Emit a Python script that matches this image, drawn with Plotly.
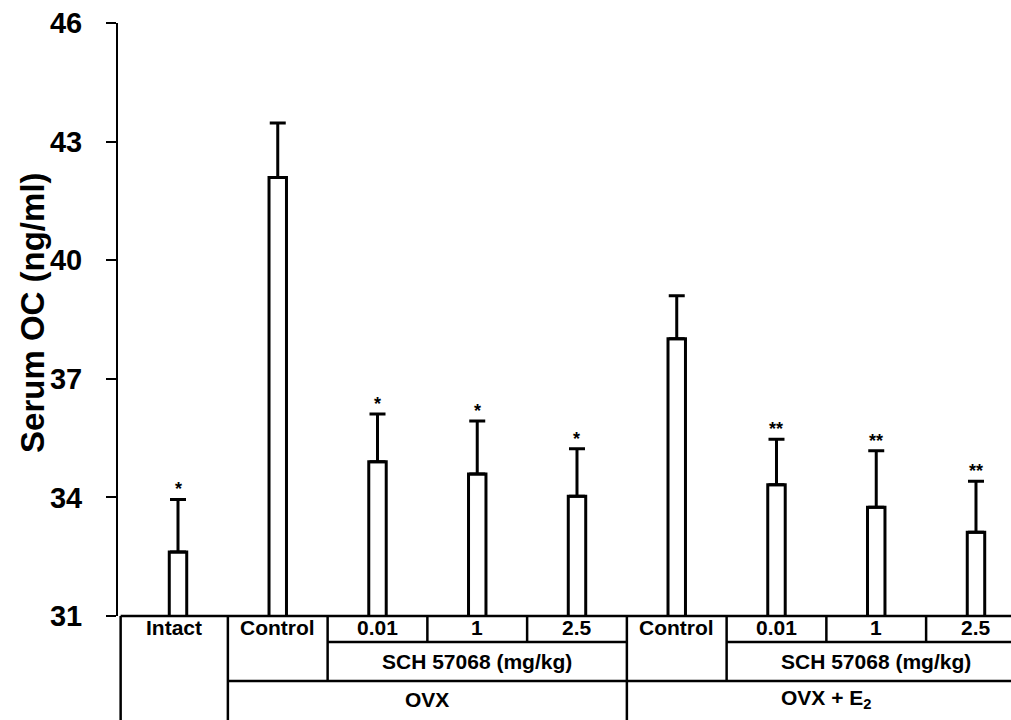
import plotly.graph_objects as go

# ---- data ----
categories = ["Intact", "Control", "0.01", "1", "2.5", "Control", "0.01", "1", "2.5"]
means = [32.62, 42.09, 34.90, 34.59, 34.03, 38.01, 34.32, 33.75, 33.12]
sem = [1.33, 1.38, 1.21, 1.34, 1.20, 1.09, 1.15, 1.43, 1.29]
sig = ["*", "", "*", "*", "*", "", "**", "**", "**"]
yticks = [31, 34, 37, 40, 43, 46]
dose_label = "SCH 57068 (mg/kg)"
group_labels = ["OVX", "OVX + E<sub>2</sub>"]
y_title = "Serum OC (ng/ml)"

FONT = "Liberation Sans, Arial, Helvetica, sans-serif"
x = list(range(len(categories)))

fig = go.Figure(
    go.Bar(
        x=x,
        y=means,
        width=0.175,
        marker=dict(color="white", line=dict(color="black", width=3)),
        error_y=dict(
            type="data",
            symmetric=False,
            array=sem,
            arrayminus=[0] * len(sem),
            color="black",
            thickness=3,
            width=8,
        ),
        hoverinfo="skip",
    )
)

# significance marks
for xi, m, e, s in zip(x, means, sem, sig):
    if s:
        fig.add_annotation(
            x=xi, y=m + e, xref="x", yref="y", text=s, showarrow=False,
            yanchor="middle", yshift=10,
            font=dict(family=FONT, size=18, color="black", weight="bold"),
        )

# ---- table beneath the axis ----
LEFT = -0.575
RIGHT = len(categories) - 0.5
ROW1, ROW2, ROW3 = 26, 65, 104  # pixel depth of row boundaries below the axis


def hline(x0, x1, depth):
    fig.add_shape(type="line", xref="x", yref="paper", ysizemode="pixel", yanchor=0,
                  x0=x0, x1=x1, y0=-depth, y1=-depth,
                  line=dict(color="black", width=2.5))


def vline(xv, d0, d1):
    fig.add_shape(type="line", xref="x", yref="paper", ysizemode="pixel", yanchor=0,
                  x0=xv, x1=xv, y0=-d0, y1=-d1,
                  line=dict(color="black", width=2.5))


hline(LEFT, RIGHT, 0)
hline(1.5, 4.5, ROW1)
hline(5.5, RIGHT, ROW1)
hline(0.5, RIGHT, ROW2)

vline(LEFT, 0, ROW3)
vline(0.5, 0, ROW3)
vline(1.5, 0, ROW2)
vline(2.5, 0, ROW1)
vline(3.5, 0, ROW1)
vline(4.5, 0, ROW3)
vline(5.5, 0, ROW2)
vline(6.5, 0, ROW1)
vline(7.5, 0, ROW1)

tfont = dict(family=FONT, size=21, color="black", weight="bold")


def label(xv, depth, text):
    fig.add_annotation(x=xv, y=0, xref="x", yref="paper", yshift=-depth, text=text,
                       showarrow=False, xanchor="center", yanchor="middle", font=tfont)


for i, c in enumerate(categories):
    xv = (LEFT + 0.5) / 2 if i == 0 else i
    label(xv, 11, c)

label(3, 45, dose_label)
label(7, 45, dose_label)
label(2.5, 83, group_labels[0])
label(6.5, 83, group_labels[1])

# y-axis title
fig.add_annotation(x=0, y=0.511, xref="paper", yref="paper", xshift=-85, text=y_title,
                   textangle=-90, showarrow=False, xanchor="center", yanchor="middle",
                   font=dict(family=FONT, size=33, color="black", weight="bold"))

fig.update_layout(
    width=1011, height=720,
    margin=dict(l=118, r=0, t=23, b=104),
    plot_bgcolor="white", paper_bgcolor="white",
    showlegend=False,
    xaxis=dict(range=[-0.6015, 8.351], visible=False, fixedrange=True),
    yaxis=dict(
        range=[31, 46], tickvals=yticks, ticks="outside", ticklen=10, tickwidth=2,
        tickcolor="black", showline=True, linewidth=2, linecolor="black",
        showgrid=False, zeroline=False, ticklabelstandoff=18,
        tickfont=dict(family=FONT, size=29, color="black", weight="bold"),
    ),
)

fig.write_html("out.html")
